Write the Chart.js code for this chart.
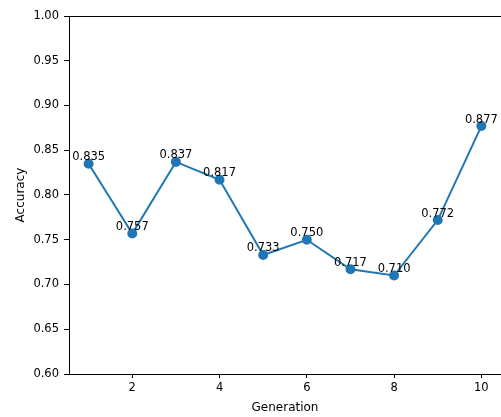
<!DOCTYPE html>
<html>
<head>
<meta charset="utf-8">
<script src="https://cdn.jsdelivr.net/npm/chart.js@4"></script>
<style>
  html, body { margin: 0; padding: 0; background: #fff; overflow: hidden; }
  #wrap { width: 501px; height: 417px; }
</style>
</head>
<body>
<div id="wrap"><canvas id="chart"></canvas></div>
<script>
// data
const generations = [1, 2, 3, 4, 5, 6, 7, 8, 9, 10];
const accuracy = [0.835, 0.757, 0.837, 0.817, 0.733, 0.750, 0.717, 0.710, 0.772, 0.877];
const xTicks = [2, 4, 6, 8, 10];
const yTicks = [0.60, 0.65, 0.70, 0.75, 0.80, 0.85, 0.90, 0.95, 1.00];

const blue = '#1f77b4';
const font = { family: 'DejaVu Sans', size: 11.5 };
const titleFont = { family: 'DejaVu Sans', size: 12 };

// value labels above each point + top spine
const extras = {
    id: 'extras',
    afterDatasetsDraw(chart) {
        const ctx = chart.ctx;
        const meta = chart.getDatasetMeta(0);
        ctx.save();
        ctx.font = '11.5px "DejaVu Sans"';
        ctx.fillStyle = '#000';
        ctx.textAlign = 'center';
        ctx.textBaseline = 'alphabetic';
        meta.data.forEach((pt, i) => {
            ctx.fillText(accuracy[i].toFixed(3), pt.x, pt.y - 3.5);
        });
        const a = chart.chartArea;
        ctx.strokeStyle = '#000';
        ctx.lineWidth = 1;
        ctx.beginPath();
        ctx.moveTo(a.left, a.top + 0.5);
        ctx.lineTo(a.right, a.top + 0.5);
        ctx.stroke();
        ctx.restore();
    }
};

new Chart(document.getElementById('chart'), {
    type: 'line',
    data: {
        datasets: [{
            data: generations.map((g, i) => ({ x: g, y: accuracy[i] })),
            borderColor: blue,
            backgroundColor: blue,
            borderWidth: 2,
            pointRadius: 4,
            pointHoverRadius: 4,
            tension: 0
        }]
    },
    options: {
        responsive: true,
        maintainAspectRatio: false,
        animation: false,
        layout: { autoPadding: false, padding: { top: 16, right: 0, bottom: 0, left: 0 } },
        plugins: { legend: { display: false }, tooltip: { enabled: false } },
        scales: {
            x: {
                type: 'linear',
                min: 0.55,
                max: 10.45,
                afterBuildTicks: s => { s.ticks = xTicks.map(v => ({ value: v })); },
                afterFit: s => { s.height = 43; },
                grid: { drawOnChartArea: false, drawTicks: true, tickLength: 4, tickColor: '#000' },
                border: { color: '#000', width: 1 },
                ticks: { color: '#000', font: font, padding: 3, maxRotation: 0 },
                title: { display: true, text: 'Generation', color: '#000', font: titleFont, padding: { top: 0, bottom: 2 } }
            },
            y: {
                min: 0.6,
                max: 1.0,
                afterBuildTicks: s => { s.ticks = yTicks.map(v => ({ value: v })); },
                afterFit: s => { s.width = 69; },
                grid: { drawOnChartArea: false, drawTicks: true, tickLength: 5, tickColor: '#000' },
                border: { color: '#000', width: 1 },
                ticks: { color: '#000', font: font, padding: 5, callback: v => v.toFixed(2) },
                title: { display: true, text: 'Accuracy', color: '#000', font: titleFont, padding: { top: 14, bottom: 0 } }
            }
        }
    },
    plugins: [extras]
});
</script>
</body>
</html>
